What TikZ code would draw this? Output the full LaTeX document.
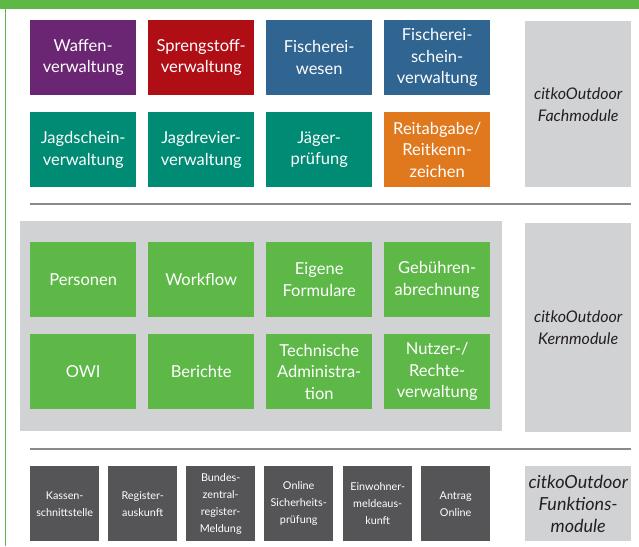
\documentclass[tikz,border=0pt]{standalone}
\usepackage{fontspec}
\setmainfont{Lato}
\usepackage{xcolor}
\usepackage{tikz}
\usetikzlibrary{positioning}

\definecolor{citkoGreen}{HTML}{5EB848}
\definecolor{modPurple}{HTML}{6A2672}
\definecolor{modRed}{HTML}{B00E15}
\definecolor{modBlue}{HTML}{2F6590}
\definecolor{modTeal}{HTML}{008B74}
\definecolor{modOrange}{HTML}{E0781E}
\definecolor{panelGray}{HTML}{D1D2D4}
\definecolor{funcGray}{HTML}{555557}
\definecolor{ruleGray}{HTML}{8A8A8A}
\definecolor{labelText}{HTML}{231F20}

\tikzset{
  modbox/.style={anchor=north west, minimum width=106pt, minimum height=75pt,
    inner sep=0pt, text width=104pt, align=center, text=white,
    font=\fontsize{16.5}{21.5}\selectfont},
  funcbox/.style={anchor=north west, fill=funcGray, minimum width=69pt,
    minimum height=75pt, inner sep=0pt, text width=67pt, align=center,
    text=white, font=\fontsize{10.8}{17}\selectfont},
  labelbox/.style={anchor=north west, fill=panelGray, minimum width=106pt,
    inner sep=0pt, text width=104pt, align=center, text=labelText,
    font=\itshape\fontsize{16}{22}\selectfont},
  sectionrule/.style={ruleGray, line width=2pt}
}

\begin{document}
\begin{tikzpicture}[x=1pt,y=-1pt]
    \useasboundingbox (0,0) rectangle (639,546);

    % frame
    \fill[citkoGreen] (0,0) rectangle (639,9);
    \draw[citkoGreen, line width=1pt] (5.5,9) -- (5.5,546);

    % Fachmodule
    \node[modbox, fill=modPurple] (waffen) at (30,20) {Waffen-\\verwaltung};
    \node[modbox, fill=modRed] (spreng) at (148,20) {Sprengstoff-\\verwaltung};
    \node[modbox, fill=modBlue] (fischwesen) at (266,20) {Fischerei-\\wesen};
    \node[modbox, fill=modBlue] (fischschein) at (384,20) {Fischerei-\\schein-\\verwaltung};
    \node[modbox, fill=modTeal] (jagdschein) at (30,112) {Jagdschein-\\verwaltung};
    \node[modbox, fill=modTeal] (jagdrevier) at (148,112) {Jagdrevier-\\verwaltung};
    \node[modbox, fill=modTeal] (jaeger) at (266,112) {Jäger-\\prüfung};
    \node[modbox, fill=modOrange] (reit) at (384,112) {Reitabgabe/\\Reitkenn-\\zeichen};
    \node[labelbox, minimum height=166pt] (fach) at (525,21) {citkoOutdoor\\Fachmodule};

    \draw[sectionrule] (30,204) -- (631,204);

    % Kernmodule
    \fill[panelGray] (20,221) rectangle (502,431);
    \node[modbox, fill=citkoGreen] (personen) at (30,242) {Personen};
    \node[modbox, fill=citkoGreen] (workflow) at (148,242) {Workflow};
    \node[modbox, fill=citkoGreen] (formulare) at (266,242) {Eigene\\Formulare};
    \node[modbox, fill=citkoGreen] (gebuehren) at (384,242) {Gebühren-\\abrechnung};
    \node[modbox, fill=citkoGreen] (owi) at (30,334) {OWI};
    \node[modbox, fill=citkoGreen] (berichte) at (148,334) {Berichte};
    \node[modbox, fill=citkoGreen] (techadmin) at (266,334) {Technische\\Administra-\\tion};
    \node[modbox, fill=citkoGreen] (rechte) at (384,334) {Nutzer-/\\Rechte-\\verwaltung};
    \node[labelbox, minimum height=209pt] (kern) at (525,223) {citkoOutdoor\\Kernmodule};

    \draw[sectionrule] (30,449) -- (631,449);

    % Funktionsmodule
    \node[funcbox] (kasse) at (30,466) {Kassen-\\schnittstelle};
    \node[funcbox] (register) at (108,466) {Register-\\auskunft};
    \node[funcbox] (bzr) at (186,466) {Bundes-\\zentral-\\register-\\Meldung};
    \node[funcbox] (sicherheit) at (264,466) {Online\\Sicherheits-\\prüfung};
    \node[funcbox] (einwohner) at (343,466) {Einwohner-\\meldeaus-\\kunft};
    \node[funcbox] (antrag) at (421,466) {Antrag\\Online};
    \node[labelbox, minimum height=75pt, font=\itshape\fontsize{18}{22}\selectfont] (funktion) at (525,466) {citkoOutdoor\\Funktions-\\module};
\end{tikzpicture}
\end{document}
